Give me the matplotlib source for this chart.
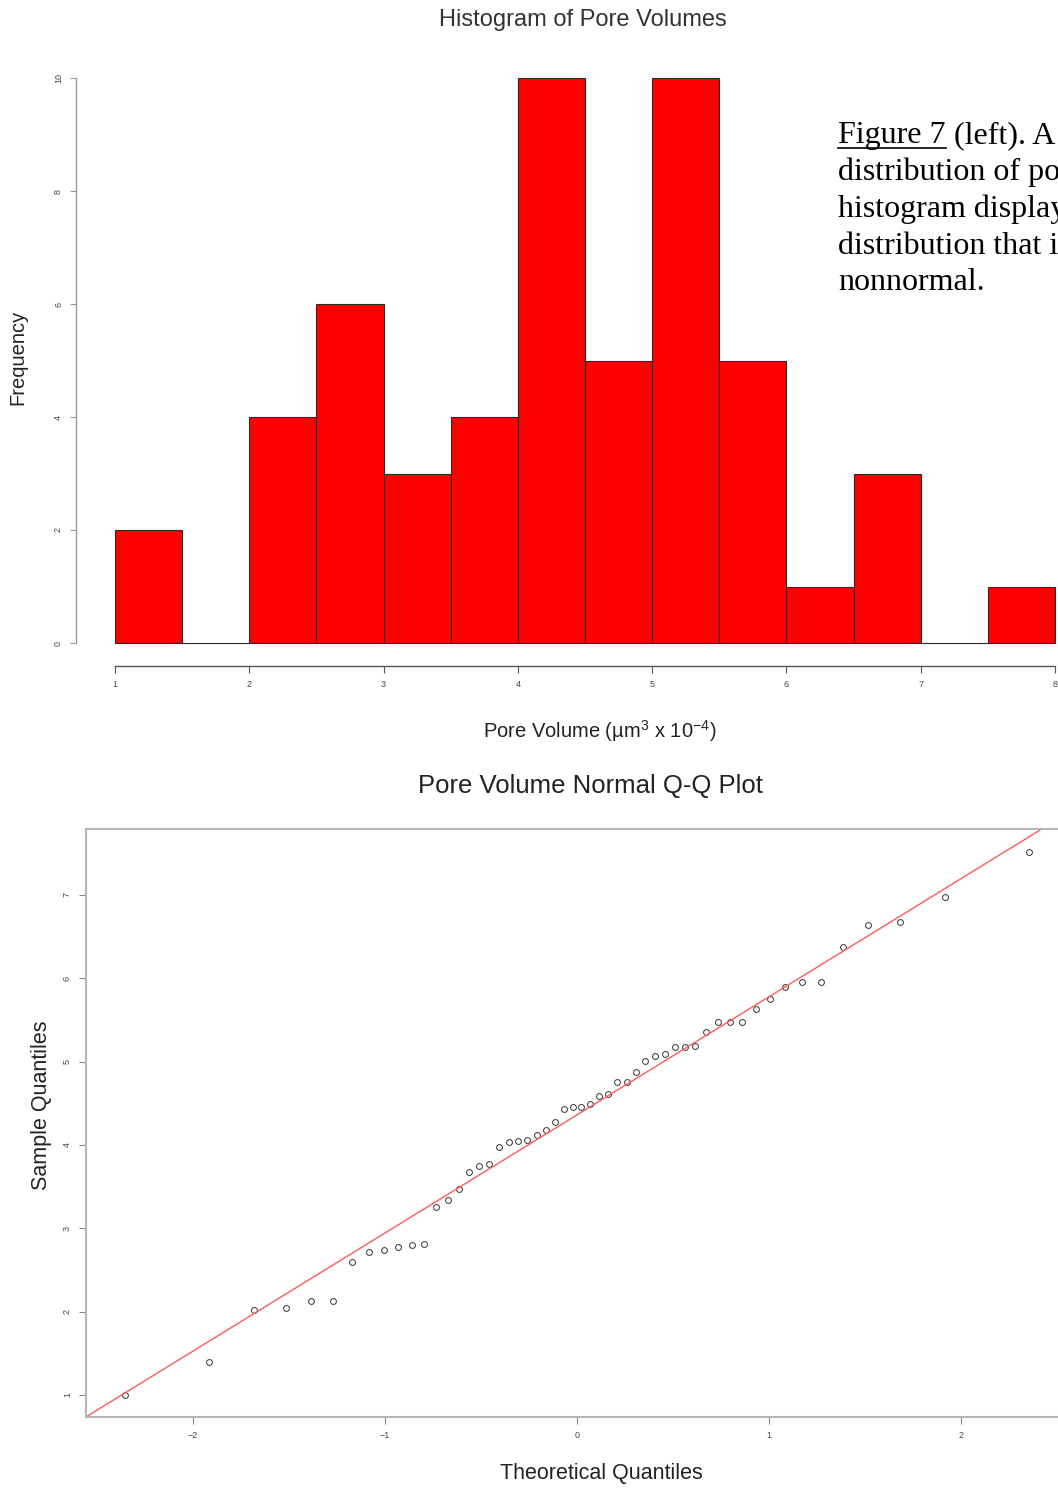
import matplotlib
matplotlib.use('Agg')
import matplotlib.pyplot as plt
from matplotlib.lines import Line2D

plt.rcParams['font.family'] = ['Liberation Sans', 'DejaVu Sans']
plt.rcParams['mathtext.default'] = 'regular'

# sorted pore volumes (um^3 x 1e-4)
pore_volume = [1.00, 1.40, 2.02, 2.04, 2.13, 2.13, 2.60, 2.72, 2.74, 2.78,
               2.80, 2.81, 3.26, 3.34, 3.47, 3.68, 3.75, 3.77, 3.98, 4.04,
               4.05, 4.06, 4.12, 4.18, 4.27, 4.43, 4.45, 4.46, 4.49, 4.59,
               4.61, 4.75, 4.75, 4.88, 5.01, 5.07, 5.09, 5.17, 5.18, 5.19,
               5.35, 5.47, 5.47, 5.48, 5.63, 5.75, 5.90, 5.95, 5.95, 6.38,
               6.64, 6.68, 6.97, 7.52]

# theoretical normal quantiles (x positions of the Q-Q points)
theoretical_q = [-2.355, -1.914, -1.682, -1.515, -1.383, -1.271, -1.173, -1.085, -1.005,
                 -0.931, -0.861, -0.796, -0.734, -0.674, -0.617, -0.562, -0.508, -0.456,
                 -0.405, -0.355, -0.306, -0.258, -0.210, -0.163, -0.116, -0.070, -0.023,
                 0.023, 0.070, 0.116, 0.163, 0.210, 0.258, 0.306, 0.355, 0.405,
                 0.456, 0.508, 0.562, 0.617, 0.674, 0.734, 0.796, 0.861, 0.931,
                 1.005, 1.085, 1.173, 1.271, 1.383, 1.515, 1.682, 1.914, 2.355]

bin_edges = [1.0, 1.5, 2.0, 2.5, 3.0, 3.5, 4.0, 4.5, 5.0, 5.5, 6.0, 6.5, 7.0, 7.5, 8.0]
hist_xticks = [1, 2, 3, 4, 5, 6, 7, 8]
hist_yticks = [0, 2, 4, 6, 8, 10]
qq_xticks = [-2, -1, 0, 1, 2]
qq_yticks = [1, 2, 3, 4, 5, 6, 7]
qq_intercept = 4.36
qq_slope = 1.417

# caption text as far as it is visible in the reference (cut at the right edge)
caption = ['distribution of po', 'histogram display', 'distribution that i', 'nonnormal.']

W, H = 1058, 1488
fig = plt.figure(figsize=(W / 100, H / 100), dpi=100)


def box(x0, y0, x1, y1):
    # pixel box (from top-left) -> figure fraction rect
    return [x0 / W, 1 - y1 / H, (x1 - x0) / W, (y1 - y0) / H]


def px(p):
    return p * 0.72


# ---- histogram ----
ax1 = fig.add_axes(box(115, 78, 1055, 643))
n, b, patches = ax1.hist(pore_volume, bins=bin_edges, color='#ff0000',
                         edgecolor='#2a2a2a', linewidth=0.8)
for p in patches:
    p.set_clip_on(False)
ax1.set_xlim(1, 8)
ax1.set_ylim(0, 10)
ax1.spines['top'].set_visible(False)
ax1.spines['right'].set_visible(False)
ax1.spines['left'].set_position(('outward', px(39)))
ax1.spines['bottom'].set_position(('outward', px(23)))
ax1.spines['left'].set_bounds(0, 10)
ax1.spines['bottom'].set_bounds(1, 8)
ax1.spines['left'].set_color('#999999')
ax1.spines['bottom'].set_color('#555555')
ax1.spines['left'].set_linewidth(1.0)
ax1.spines['bottom'].set_linewidth(1.0)
ax1.set_xticks(hist_xticks)
ax1.set_yticks(hist_yticks)
ax1.tick_params(axis='x', length=px(7), width=0.8, color='#555555',
                labelsize=6.5, labelcolor='#444444', pad=px(7))
ax1.tick_params(axis='y', length=px(6), width=0.8, color='#999999',
                labelsize=6.5, labelcolor='#444444', pad=px(7))
for lbl in ax1.get_yticklabels():
    lbl.set_rotation(90)
    lbl.set_va('center')

fig.text(583 / W, 1 - 20 / H, 'Histogram of Pore Volumes', ha='center', va='center',
         fontsize=17, color='#333333')
fig.text(18 / W, 1 - 357 / H, 'Frequency', rotation=90, ha='center', va='center',
         fontsize=14.5, color='#222222')
fig.text(600 / W, 1 - 731 / H, r'Pore Volume (µm$^{3}$ x 10$^{-4}$)', ha='center', va='center',
         fontsize=14.5, color='#222222')

# ---- caption (Times-like serif) ----
serif = ['Liberation Serif', 'DejaVu Serif']
t = fig.text(838 / W, 1 - 143 / H, 'Figure 7', family=serif, fontsize=23, va='baseline')
fig.canvas.draw()
bb = t.get_window_extent()
fig.add_artist(Line2D([bb.x0 / W, bb.x1 / W], [1 - 148 / H, 1 - 148 / H],
                      transform=fig.transFigure, color='black', linewidth=1.2))
fig.text((bb.x1 + 8) / W, 1 - 143 / H, '(left). A', family=serif, fontsize=23, va='baseline')
for i, line in enumerate(caption):
    fig.text(838 / W, 1 - (180 + i * 36.8) / H, line, family=serif, fontsize=23, va='baseline')

# ---- normal Q-Q plot ----
ax2 = fig.add_axes(box(86, 829, 1072, 1417))
ax2.plot(theoretical_q, pore_volume, linestyle='none', marker='o', markersize=4.2,
         markerfacecolor='none', markeredgecolor='#333333', markeredgewidth=0.7)
ax2.axline((0, qq_intercept), slope=qq_slope, color='#ff5a5a', linewidth=1.0)
ax2.set_xlim(-2.557, 2.578)
ax2.set_ylim(0.736, 7.79)
for s in ax2.spines.values():
    s.set_color('#b5b5b5')
    s.set_linewidth(1.5)
ax2.set_xticks(qq_xticks)
ax2.set_yticks(qq_yticks)
ax2.tick_params(length=px(7), width=0.8, color='#888888', labelsize=6.5,
                labelcolor='#444444', pad=px(7))
for lbl in ax2.get_yticklabels():
    lbl.set_rotation(90)
    lbl.set_va('center')

fig.text(590 / W, 1 - 786 / H, 'Pore Volume Normal Q-Q Plot', ha='center', va='center',
         fontsize=18.5, color='#222222')
fig.text(42 / W, 1 - 1105 / H, 'Sample Quantiles', rotation=90, ha='center', va='center',
         fontsize=15.5, color='#222222')
fig.text(601 / W, 1 - 1474 / H, 'Theoretical Quantiles', ha='center', va='center',
         fontsize=15.5, color='#222222')

fig.savefig('out.png', dpi=100)
